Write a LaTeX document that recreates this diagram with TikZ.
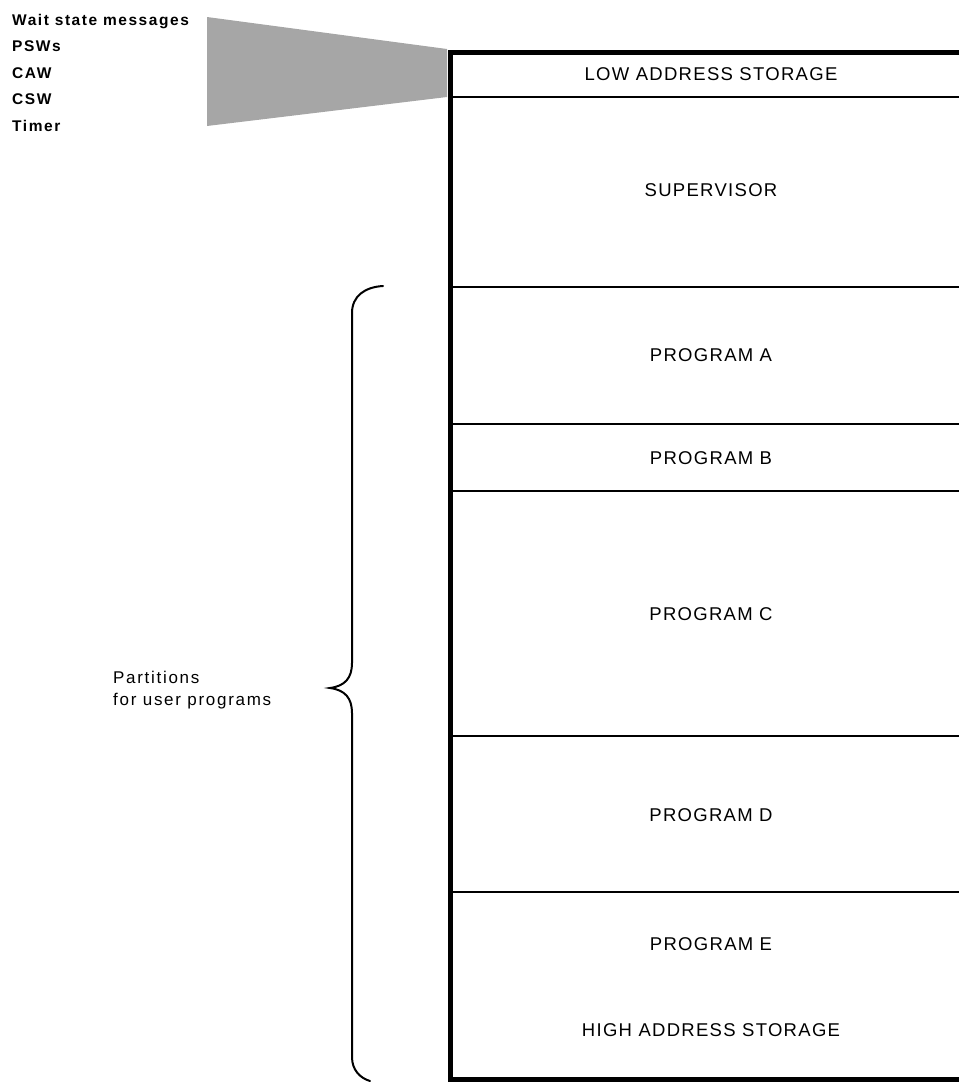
\documentclass[tikz,border=0pt]{standalone}
\usepackage{fontspec}
\setmainfont{Liberation Sans}
\newfontfamily\regionfont[LetterSpace=7]{Liberation Sans}
\newfontfamily\tagfont[LetterSpace=10]{Liberation Sans}
\newfontfamily\notefont[LetterSpace=10]{Liberation Sans}
\begin{document}
\begin{tikzpicture}[x=1pt,y=-1pt,
  region/.style={font=\regionfont\fontsize{18.5}{22}\selectfont, anchor=base, inner sep=0pt},
  tag/.style={font=\tagfont\bfseries\fontsize{15.5}{18}\selectfont, anchor=base west, inner sep=0pt},
  divider/.style={line width=2.5pt},
  frame/.style={line width=5pt},
  bracket/.style={line width=2pt, line cap=round}]
\useasboundingbox (0,0) rectangle (959,1082);

% shaded wedge linking the low-address list to the storage map
\fill[black!35] (207,17) -- (447,49) -- (447,97) -- (207,126) -- cycle;

% storage frame: top, left and bottom edges
\coordinate (tr) at (959,52);
\coordinate (br) at (959,1079);
\draw[frame] (tr) -| (450,1079) -- (br);

% partition boundaries
\foreach \y in {97,287,424,491,736,892}
  \draw[divider] (452,\y) -- (959,\y);

% region labels
\node[region] (low)  at (711,80)    {LOW ADDRESS STORAGE};
\node[region] (sup)  at (711,196.5) {SUPERVISOR};
\node[region] (pa)   at (711,361)   {PROGRAM A};
\node[region] (pb)   at (711,464.5) {PROGRAM B};
\node[region] (pc)   at (711,620.5) {PROGRAM C};
\node[region] (pd)   at (711,821.5) {PROGRAM D};
\node[region] (pe)   at (711,950.5) {PROGRAM E};
\node[region] (high) at (711,1036)  {HIGH ADDRESS STORAGE};

% contents of low address storage
\node[tag] (wait)  at (12,25)    {Wait state messages};
\node[tag] (psw)   at (12,51.5)  {PSWs};
\node[tag] (caw)   at (12,78)    {CAW};
\node[tag] (csw)   at (12,104.5) {CSW};
\node[tag] (timer) at (12,131)   {Timer};

% brace over the user partitions
\draw[bracket] (383,286) .. controls (365,287) and (352,296) .. (352,313)
  -- (352,663) .. controls (352,678) and (345,686) .. (330,688)
  .. controls (345,690) and (352,698) .. (352,713)
  -- (352,1057) .. controls (352,1070) and (360,1078) .. (370,1081);
\node[font=\notefont\fontsize{17}{22}\selectfont, anchor=base west, inner sep=0pt]
  (part) at (113,683.5) {Partitions};
\node[font=\notefont\fontsize{17}{22}\selectfont, anchor=base west, inner sep=0pt]
  (part2) at (113,705) {for user programs};
\end{tikzpicture}
\end{document}
